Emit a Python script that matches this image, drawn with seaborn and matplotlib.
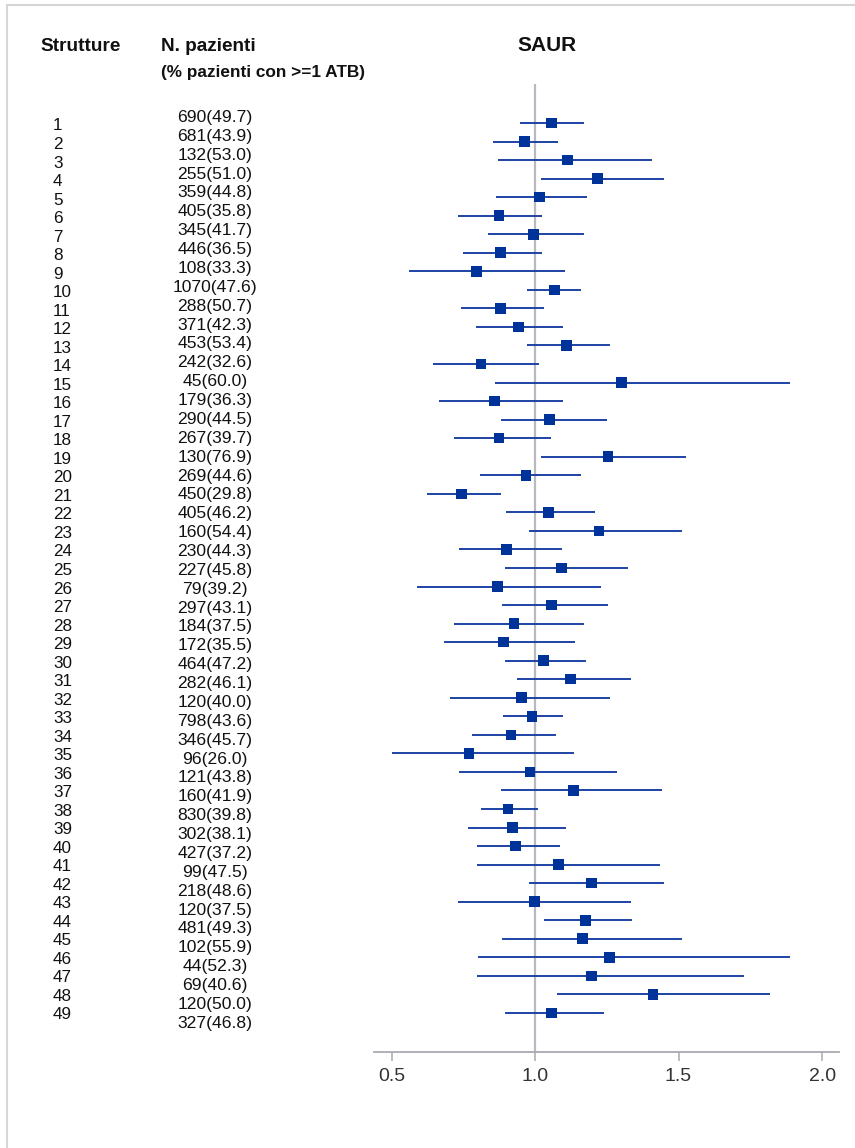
import numpy as np
import pandas as pd
import matplotlib
matplotlib.use("Agg")
import matplotlib.pyplot as plt
import seaborn as sns
from matplotlib.lines import Line2D

# ---------------- data ----------------
strutture = list(range(1, 50))
n_pazienti = [690, 681, 132, 255, 359, 405, 345, 446, 108, 1070,
              288, 371, 453, 242, 45, 179, 290, 267, 130, 269,
              450, 405, 160, 230, 227, 79, 297, 184, 172, 464,
              282, 120, 798, 346, 96, 121, 160, 830, 302, 427,
              99, 218, 120, 481, 102, 44, 69, 120, 327]
pct_atb = [49.7, 43.9, 53.0, 51.0, 44.8, 35.8, 41.7, 36.5, 33.3, 47.6,
           50.7, 42.3, 53.4, 32.6, 60.0, 36.3, 44.5, 39.7, 76.9, 44.6,
           29.8, 46.2, 54.4, 44.3, 45.8, 39.2, 43.1, 37.5, 35.5, 47.2,
           46.1, 40.0, 43.6, 45.7, 26.0, 43.8, 41.9, 39.8, 38.1, 37.2,
           47.5, 48.6, 37.5, 49.3, 55.9, 52.3, 40.6, 50.0, 46.8]
saur = [1.057, 0.963, 1.114, 1.218, 1.016, 0.875, 0.994, 0.879, 0.796, 1.067,
        0.879, 0.942, 1.109, 0.812, 1.302, 0.858, 1.051, 0.875, 1.254, 0.969,
        0.743, 1.046, 1.223, 0.900, 1.093, 0.869, 1.057, 0.927, 0.890, 1.030,
        1.124, 0.952, 0.989, 0.916, 0.770, 0.983, 1.135, 0.906, 0.921, 0.931,
        1.082, 1.197, 0.999, 1.176, 1.166, 1.260, 1.197, 1.411, 1.057]
ci_low = [0.948, 0.854, 0.870, 1.020, 0.864, 0.733, 0.837, 0.749, 0.561, 0.973,
          0.743, 0.796, 0.973, 0.645, 0.860, 0.666, 0.881, 0.719, 1.020, 0.808,
          0.625, 0.900, 0.980, 0.734, 0.896, 0.588, 0.885, 0.719, 0.682, 0.896,
          0.937, 0.703, 0.890, 0.782, 0.500, 0.734, 0.881, 0.812, 0.766, 0.797,
          0.797, 0.980, 0.730, 1.031, 0.885, 0.802, 0.797, 1.078, 0.896]
ci_high = [1.172, 1.079, 1.407, 1.448, 1.182, 1.026, 1.172, 1.026, 1.103, 1.161,
           1.030, 1.099, 1.260, 1.015, 1.890, 1.099, 1.249, 1.057, 1.526, 1.161,
           0.881, 1.209, 1.511, 1.094, 1.323, 1.229, 1.255, 1.172, 1.140, 1.178,
           1.333, 1.260, 1.099, 1.072, 1.135, 1.287, 1.443, 1.010, 1.109, 1.088,
           1.437, 1.448, 1.333, 1.338, 1.511, 1.890, 1.729, 1.817, 1.240]
x_ticks = [0.5, 1.0, 1.5, 2.0]
x_tick_labels = ["0.5", "1.0", "1.5", "2.0"]

df = pd.DataFrame({
    "row": np.arange(len(strutture)),
    "struttura": strutture,
    "n": n_pazienti,
    "pct": pct_atb,
    "saur": saur,
    "lo": ci_low,
    "hi": ci_high,
})

# ---------------- style ----------------
sns.set_theme(style="white")
plt.rcParams["font.family"] = ["Liberation Sans", "DejaVu Sans"]

W, H = 855, 1148
fig = plt.figure(figsize=(W / 100, H / 100), dpi=100)
fig.patch.set_facecolor("white")

def fx(p):
    return p / W

def fy(p):
    return 1 - p / H

ax_left, ax_right, ax_top, ax_bot = 374, 839, 84, 1052
ax = fig.add_axes([fx(ax_left), fy(ax_bot), (ax_right - ax_left) / W, (ax_bot - ax_top) / H])

navy = "#003399"
row0, row_step = 123, 18.54

ax.axvline(1.0, color="#b9b9c1", lw=1.6, zorder=1)
ax.hlines(df["row"], df["lo"], df["hi"], color="#1d43a6", lw=1.4, zorder=2)
sns.scatterplot(data=df, x="saur", y="row", marker="s", s=58, color=navy,
                edgecolor="none", linewidth=0, ax=ax, zorder=3, legend=False)

ax.set_xlim(0.439, 2.059)
ax.set_ylim((ax_bot - row0) / row_step, (ax_top - row0) / row_step)
ax.set_xticks(x_ticks)
ax.set_xticklabels(x_tick_labels)
ax.set_xlabel("")
ax.set_ylabel("")
ax.set_yticks([])
for s in ["top", "right", "left"]:
    ax.spines[s].set_visible(False)
ax.spines["bottom"].set_color("#a9a9b1")
ax.spines["bottom"].set_linewidth(1.3)
ax.tick_params(axis="x", direction="out", length=6.5, width=1.1, color="#a9a9b1",
               labelsize=14, labelcolor="#333333", pad=5, bottom=True)
ax.patch.set_alpha(0)

# ---------------- text columns ----------------
row_fs = 12.6
for i, (s_lab, n, p) in enumerate(zip(strutture, n_pazienti, pct_atb)):
    yc_s = 124.5 + i * 18.52
    fig.text(fx(53), fy(yc_s + 6), str(s_lab), fontsize=12.3, color="#111111",
             ha="left", va="baseline")
    yc_n = 116 + i * 18.87
    fig.text(fx(215), fy(yc_n + 6), f"{n}({p:.1f})", fontsize=row_fs, color="#111111",
             ha="center", va="baseline")

fig.text(fx(40), fy(51), "Strutture", fontsize=13.7, fontweight="bold",
         color="#111111", ha="left", va="baseline")
fig.text(fx(161), fy(51), "N. pazienti", fontsize=13.7, fontweight="bold",
         color="#111111", ha="left", va="baseline")
fig.text(fx(161), fy(77), "(% pazienti con >=1 ATB)", fontsize=12.4, fontweight="bold",
         color="#111111", ha="left", va="baseline")
fig.text(fx(547), fy(51), "SAUR", fontsize=15, fontweight="bold",
         color="#111111", ha="center", va="baseline")

# light frame (top and left edges)
fig.add_artist(Line2D([fx(6.5), 1], [fy(4.5), fy(4.5)], transform=fig.transFigure,
                      color="#d6d6d6", lw=1.5))
fig.add_artist(Line2D([fx(6.5), fx(6.5)], [0, fy(4.5)], transform=fig.transFigure,
                      color="#d6d6d6", lw=1.5))

fig.savefig("out.png", dpi=100, facecolor="white")
